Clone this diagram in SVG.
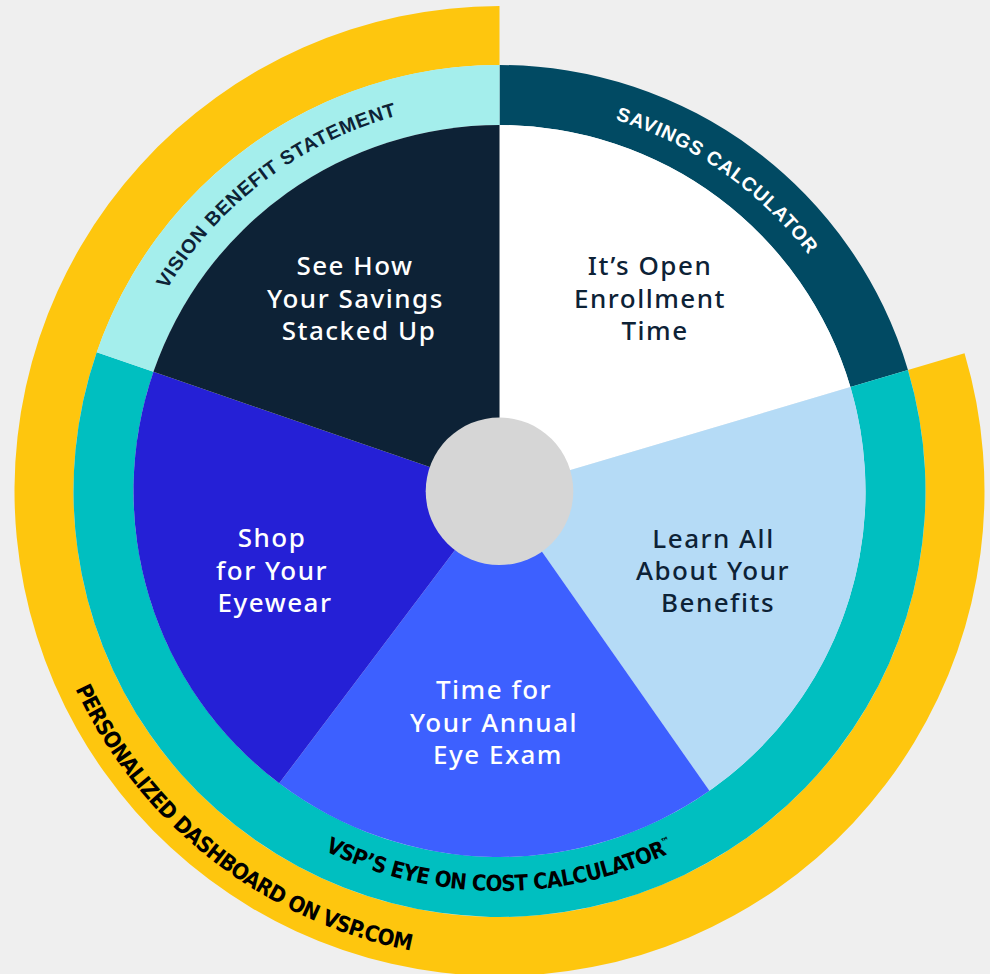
<svg xmlns="http://www.w3.org/2000/svg" width="990" height="974" viewBox="0 0 990 974">
<style>
.lbl{font-family:"Noto Sans","Liberation Sans",sans-serif;font-size:26px;font-weight:500;text-anchor:middle;letter-spacing:1.5px}
.light{fill:#FFFFFF}
.dark{fill:#0D2236}
.ring{font-family:"Liberation Sans",Arial,sans-serif;font-weight:700;font-size:19.5px;letter-spacing:0.8px;text-anchor:middle}
.narrow{font-family:"Liberation Sans Narrow","DejaVu Sans Condensed","Liberation Sans",sans-serif;font-weight:700;font-size:22px;letter-spacing:-0.7px;fill:#000000;text-anchor:middle}
</style>
<defs>
<path id="arcSav" d="M431.95,107.91 A389,389 0 0 1 882.59,423.45"/>
<path id="arcVis" d="M114.29,436.86 A389,389 0 0 1 553.64,105.79"/>
<path id="arcVsp" d="M216.66,773.84 A400,400 0 0 0 782.34,773.84"/>
<path id="arcPer" d="M34.99,548.03 A468,468 0 0 0 556.53,955.51"/>
</defs>
<rect width="990" height="974" fill="#EFEFEF"/>

<g id="ring-personalized-dashboard">
<path d="M964.53,353.25 A485,485 0 1 1 499.5,6 L499.5,65 A426,426 0 1 0 907.96,370.01 Z" fill="#FEC60E"/>
<text class="narrow"><textPath href="#arcPer" startOffset="50%">PERSONALIZED DASHBOARD ON VSP.COM</textPath></text>
</g>

<g id="ring-savings-calculator">
<path d="M499.5,65 A426,426 0 0 1 907.96,370.01 L850.43,387.05 A366,366 0 0 0 499.5,125 Z" fill="#014A63"/>
<text class="ring" fill="#FFFFFF"><textPath href="#arcSav" startOffset="50%">SAVINGS CALCULATOR</textPath></text>
</g>

<g id="ring-eye-on-cost">
<path d="M907.96,370.01 A426,426 0 1 1 96.71,352.31 L153.44,371.84 A366,366 0 1 0 850.43,387.05 Z" fill="#00BFC0"/>
<text class="narrow"><textPath href="#arcVsp" startOffset="50%">VSP’S EYE ON COST CALCULATOR<tspan font-size="10" dy="-9">™</tspan></textPath></text>
</g>

<g id="ring-vision-benefit">
<path d="M96.71,352.31 A426,426 0 0 1 499.5,65 L499.5,125 A366,366 0 0 0 153.44,371.84 Z" fill="#A4EEEC"/>
<text class="ring" fill="#0D2236"><textPath href="#arcVis" startOffset="50%">VISION BENEFIT STATEMENT</textPath></text>
</g>

<g id="slice-open-enrollment">
<path d="M499.5,491 L499.5,125 A366,366 0 0 1 850.43,387.05 Z" fill="#FFFFFF"/>
<text class="lbl dark"><tspan x="650" y="275">It’s Open</tspan><tspan x="650" y="307.5">Enrollment</tspan><tspan x="655" y="340">Time</tspan></text>
</g>

<g id="slice-learn-benefits">
<path d="M499.5,491 L850.43,387.05 A366,366 0 0 1 709.43,790.81 Z" fill="#B5DBF6"/>
<text class="lbl dark"><tspan x="713.5" y="547.5">Learn All</tspan><tspan x="713" y="580">About Your</tspan><tspan x="718" y="612">Benefits</tspan></text>
</g>

<g id="slice-eye-exam">
<path d="M499.5,491 L709.43,790.81 A366,366 0 0 1 279.23,783.30 Z" fill="#3D60FF"/>
<text class="lbl light"><tspan x="494" y="699">Time for</tspan><tspan x="494" y="731.5">Your Annual</tspan><tspan x="498" y="764">Eye Exam</tspan></text>
</g>

<g id="slice-eyewear">
<path d="M499.5,491 L279.23,783.30 A366,366 0 0 1 153.44,371.84 Z" fill="#2520D6"/>
<text class="lbl light"><tspan x="272" y="547">Shop</tspan><tspan x="272" y="580">for Your</tspan><tspan x="275" y="612">Eyewear</tspan></text>
</g>

<g id="slice-savings-stacked">
<path d="M499.5,491 L153.44,371.84 A366,366 0 0 1 499.5,125 Z" fill="#0D2236"/>
<text class="lbl light"><tspan x="355" y="274.5">See How</tspan><tspan x="355.5" y="307.5">Your Savings</tspan><tspan x="359" y="340">Stacked Up</tspan></text>
</g>

<g id="hub">
<circle cx="499.5" cy="491.3" r="73.8" fill="#D6D6D6"/>
</g>

<g id="connectors"/>
</svg>
